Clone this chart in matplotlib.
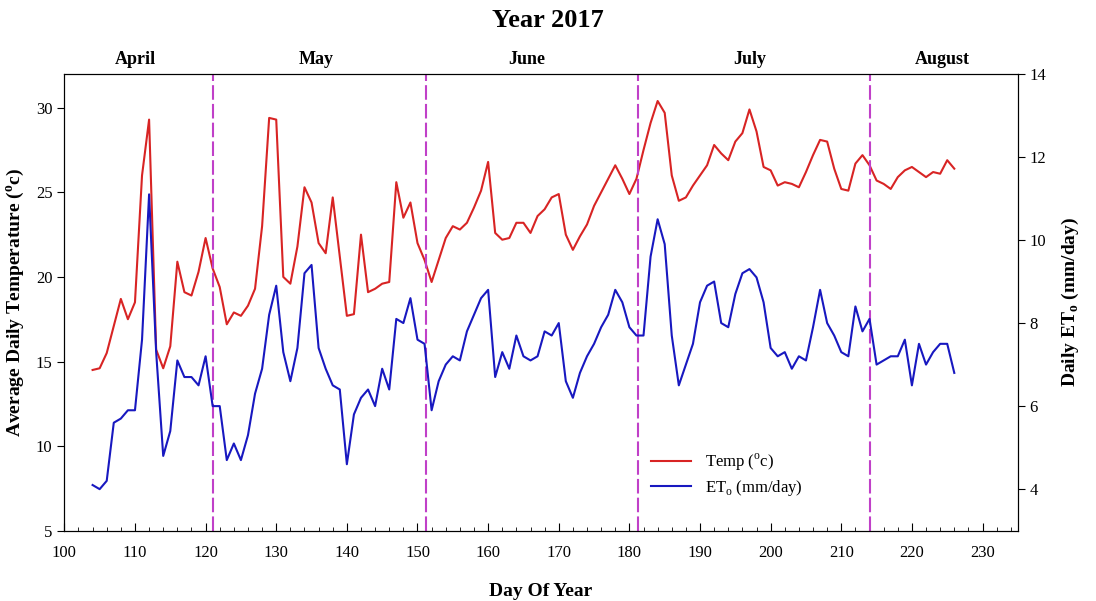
import numpy as np
import matplotlib
matplotlib.use('Agg')
import matplotlib.pyplot as plt
from matplotlib.ticker import MultipleLocator

plt.rcParams['font.family'] = ['Liberation Serif', 'DejaVu Serif']
plt.rcParams['mathtext.fontset'] = 'custom'
plt.rcParams['mathtext.rm'] = 'Liberation Serif'
plt.rcParams['mathtext.bf'] = 'Liberation Serif:bold'

# Day of year, 104 .. 226
days = np.arange(104, 227)

temp = [14.5, 14.6, 15.5, 17.1, 18.7, 17.5, 18.5, 26.0, 29.3, 15.7,
        14.6, 15.9, 20.9, 19.1, 18.9, 20.3, 22.3, 20.5, 19.4, 17.2,
        17.9, 17.7, 18.3, 19.3, 23.0, 29.4, 29.3, 20.0, 19.6, 21.8,
        25.3, 24.4, 22.0, 21.4, 24.7, 21.2, 17.7, 17.8, 22.5, 19.1,
        19.3, 19.6, 19.7, 25.6, 23.5, 24.4, 22.0, 21.0, 19.7, 21.0,
        22.3, 23.0, 22.8, 23.2, 24.1, 25.1, 26.8, 22.6, 22.2, 22.3,
        23.2, 23.2, 22.6, 23.6, 24.0, 24.7, 24.9, 22.5, 21.6, 22.4,
        23.1, 24.2, 25.0, 25.8, 26.6, 25.8, 24.9, 25.8, 27.5, 29.1,
        30.4, 29.7, 26.0, 24.5, 24.7, 25.4, 26.0, 26.6, 27.8, 27.3,
        26.9, 28.0, 28.5, 29.9, 28.6, 26.5, 26.3, 25.4, 25.6, 25.5,
        25.3, 26.2, 27.2, 28.1, 28.0, 26.4, 25.2, 25.1, 26.7, 27.2,
        26.6, 25.7, 25.5, 25.2, 25.9, 26.3, 26.5, 26.2, 25.9, 26.2,
        26.1, 26.9, 26.4]

eto = [4.1, 4.0, 4.2, 5.6, 5.7, 5.9, 5.9, 7.6, 11.1, 7.3,
       4.8, 5.4, 7.1, 6.7, 6.7, 6.5, 7.2, 6.0, 6.0, 4.7,
       5.1, 4.7, 5.3, 6.3, 6.9, 8.2, 8.9, 7.3, 6.6, 7.4,
       9.2, 9.4, 7.4, 6.9, 6.5, 6.4, 4.6, 5.8, 6.2, 6.4,
       6.0, 6.9, 6.4, 8.1, 8.0, 8.6, 7.6, 7.5, 5.9, 6.6,
       7.0, 7.2, 7.1, 7.8, 8.2, 8.6, 8.8, 6.7, 7.3, 6.9,
       7.7, 7.2, 7.1, 7.2, 7.8, 7.7, 8.0, 6.6, 6.2, 6.8,
       7.2, 7.5, 7.9, 8.2, 8.8, 8.5, 7.9, 7.7, 7.7, 9.6,
       10.5, 9.9, 7.7, 6.5, 7.0, 7.5, 8.5, 8.9, 9.0, 8.0,
       7.9, 8.7, 9.2, 9.3, 9.1, 8.5, 7.4, 7.2, 7.3, 6.9,
       7.2, 7.1, 7.9, 8.8, 8.0, 7.7, 7.3, 7.2, 8.4, 7.8,
       8.1, 7.0, 7.1, 7.2, 7.2, 7.6, 6.5, 7.5, 7.0, 7.3,
       7.5, 7.5, 6.8]

month_names = ['April', 'May', 'June', 'July', 'August']
month_label_pos = [110, 135.6, 165.4, 197.1, 224.3]
month_breaks = [121, 151.2, 181.2, 214]

fig = plt.figure(figsize=(10.96, 6.01), dpi=100)
ax = fig.add_axes([0.0587, 0.117, 0.8700, 0.760])
ax2 = ax.twinx()

l1, = ax.plot(days, temp, color='#d82424', lw=1.5, label=r'Temp ($^\mathrm{o}$c)')
l2, = ax2.plot(days, eto, color='#1818c0', lw=1.5, label=r'ET$_\mathrm{o}$ (mm/day)')

for d in month_breaks:
    ax.axvline(d, color='#c040c8', lw=1.5, linestyle=(0, (7, 2)))

for name, pos in zip(month_names, month_label_pos):
    ax.text(pos, 1.012, name, transform=ax.get_xaxis_transform(),
            ha='center', va='bottom', fontsize=13, fontweight='bold')

ax.set_xlim(100, 235)
ax.set_ylim(5, 32)
ax2.set_ylim(3, 14)

ax.xaxis.set_major_locator(MultipleLocator(10))
ax.xaxis.set_minor_locator(MultipleLocator(2))
ax.set_yticks([5, 10, 15, 20, 25, 30])
ax2.set_yticks([4, 6, 8, 10, 12, 14])

ax.tick_params(axis='x', which='major', direction='in', length=6, labelsize=12, pad=10)
ax.tick_params(axis='x', which='minor', direction='in', length=3)
ax.tick_params(axis='y', direction='out', length=5, labelsize=12)
ax2.tick_params(axis='y', direction='out', length=5, labelsize=12)

ax.set_xlabel('Day Of Year', fontsize=14, fontweight='bold', labelpad=16)
ax.set_ylabel(r'Average Daily Temperature ($^\mathbf{o}$c)', fontsize=14,
              fontweight='bold', labelpad=6)
ax2.set_ylabel(r'Daily ET$_\mathbf{o}$ (mm/day)', fontsize=14,
               fontweight='bold', labelpad=10)

fig.suptitle('Year 2017', fontsize=19, fontweight='bold', y=0.985)

ax.legend(handles=[l1, l2], loc='upper left', bbox_to_anchor=(0.6, 0.205),
          frameon=False, fontsize=12, handlelength=2.4, labelspacing=0.25)

fig.savefig('out.png', dpi=100)
